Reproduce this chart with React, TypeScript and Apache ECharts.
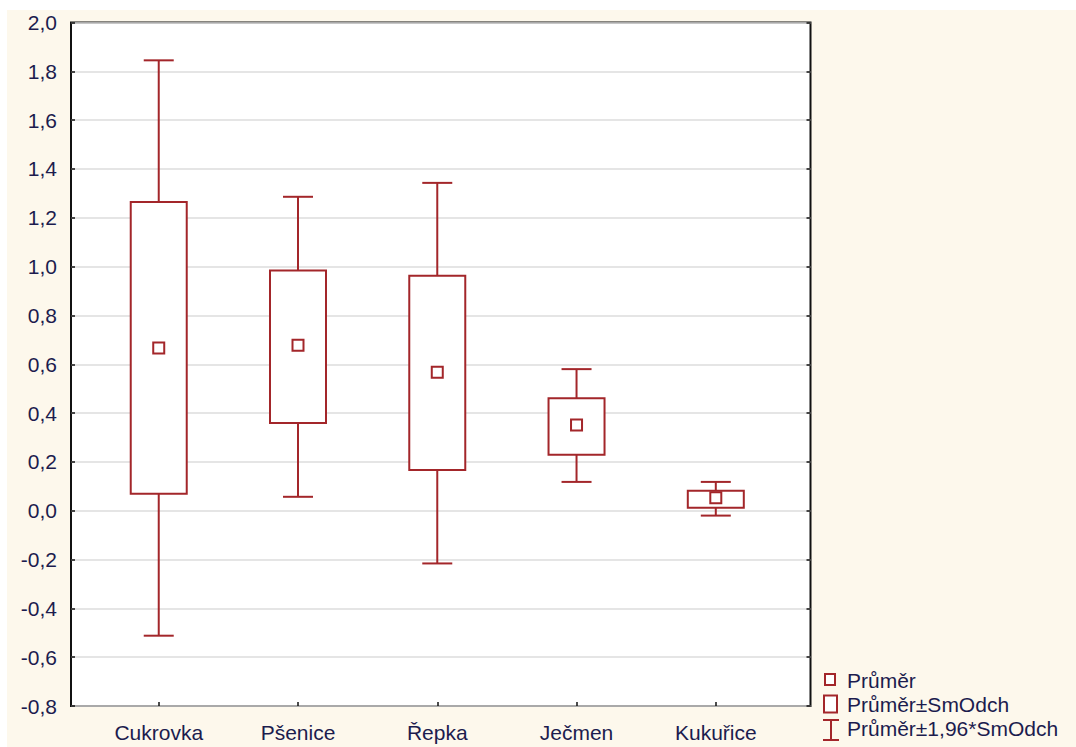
import React, { useEffect, useRef } from "react";
import * as echarts from "echarts";

// Categories and statistics per crop
const crops = ["Cukrovka", "Pšenice", "Řepka", "Ječmen", "Kukuřice"];
const means = [0.667, 0.678, 0.567, 0.351, 0.053];
const sdLow = [0.069, 0.359, 0.167, 0.229, 0.012];
const sdHigh = [1.265, 0.984, 0.963, 0.461, 0.082];
const ciLow = [-0.512, 0.057, -0.216, 0.118, -0.02];
const ciHigh = [1.845, 1.286, 1.343, 0.58, 0.118];
const legendLabels = ["Průměr", "Průměr±SmOdch", "Průměr±1,96*SmOdch"];

const RED = "#a3262a";
const INK = "#1c1c4e";
const CREAM = "#fdf8ec";
const FONT = "'Liberation Sans', Arial, sans-serif";

export default function App() {
  const ref = useRef<HTMLDivElement>(null);

  useEffect(() => {
    if (!ref.current) return;
    const chart = echarts.init(ref.current, null, { renderer: "svg" });

    const data = crops.map((_, i) => [i + 1, ciLow[i], sdLow[i], means[i], sdHigh[i], ciHigh[i]]);
    const positions = crops.map((_, i) => i + 1);

    const stroke = { stroke: RED, lineWidth: 2 };

    const legendY = [680, 704, 728];

    chart.setOption({
      animation: false,
      backgroundColor: "#ffffff",
      textStyle: { fontFamily: FONT },
      graphic: [
        {
          type: "rect",
          z: -10,
          silent: true,
          shape: { x: 7, y: 10, width: 1076, height: 747 },
          style: { fill: CREAM },
        },
        // legend
        {
          type: "rect",
          shape: { x: 825, y: 674, width: 10, height: 11 },
          style: { fill: "#fff", stroke: RED, lineWidth: 2 },
        },
        {
          type: "rect",
          shape: { x: 824, y: 695.5, width: 13, height: 17 },
          style: { fill: "#fff", stroke: RED, lineWidth: 2 },
        },
        {
          type: "line",
          shape: { x1: 823, y1: 720, x2: 839, y2: 720 },
          style: { stroke: RED, lineWidth: 2 },
        },
        {
          type: "line",
          shape: { x1: 831, y1: 720, x2: 831, y2: 740 },
          style: { stroke: RED, lineWidth: 2 },
        },
        {
          type: "line",
          shape: { x1: 823, y1: 740, x2: 839, y2: 740 },
          style: { stroke: RED, lineWidth: 2 },
        },
        ...legendLabels.map((t, i) => ({
          type: "text",
          x: 847,
          y: legendY[i],
          style: {
            text: t,
            fill: INK,
            font: `21px ${FONT}`,
            textVerticalAlign: "middle",
            verticalAlign: "middle",
          },
        })),
      ],
      grid: {
        left: 71,
        right: 265.5,
        top: 22.5,
        bottom: 41,
        show: true,
        backgroundColor: "#ffffff",
        borderColor: "#111",
        borderWidth: 2,
      },
      xAxis: {
        type: "value",
        min: 0.37,
        max: 5.68,
        axisLine: { show: false, onZero: false },
        splitLine: { show: false },
        axisTick: {
          show: true,
          inside: true,
          length: 4,
          lineStyle: { color: "#111", width: 1.5 },
          customValues: positions,
        },
        axisLabel: {
          customValues: positions,
          formatter: (v: number) => crops[Math.round(v) - 1] ?? "",
          color: INK,
          fontSize: 21,
          fontFamily: FONT,
          margin: 16,
        },
      },
      yAxis: [
        {
          type: "value",
          min: -0.8,
          max: 2.0,
          interval: 0.2,
          axisLine: { show: false, onZero: false },
          axisTick: {
            show: true,
            inside: true,
            length: 4,
            lineStyle: { color: "#111", width: 1.5 },
          },
          splitLine: { show: true, lineStyle: { color: "#dcdcdc", width: 1.5 } },
          axisLabel: {
            formatter: (v: number) => v.toFixed(1).replace(".", ","),
            color: INK,
            fontSize: 21,
            fontFamily: FONT,
            margin: 14,
          },
        },
        {
          type: "value",
          position: "right",
          min: -0.8,
          max: 2.0,
          interval: 0.2,
          axisLine: { show: false, onZero: false },
          axisTick: {
            show: true,
            inside: true,
            length: 4,
            lineStyle: { color: "#111", width: 1.5 },
          },
          splitLine: { show: false },
          axisLabel: { show: false },
        },
      ],
      series: [
        {
          type: "custom",
          name: "Průměr",
          xAxisIndex: 0,
          yAxisIndex: 0,
          dimensions: ["pos", "ciLow", "sdLow", "mean", "sdHigh", "ciHigh"],
          encode: { x: 0, y: [1, 2, 3, 4, 5] },
          data,
          renderItem: (_params: any, api: any) => {
            const x = api.value(0);
            const wLo = api.coord([x, api.value(1)]);
            const bLo = api.coord([x, api.value(2)]);
            const m = api.coord([x, api.value(3)]);
            const bHi = api.coord([x, api.value(4)]);
            const wHi = api.coord([x, api.value(5)]);
            const cx = m[0];
            const boxW = 56;
            const capW = 30;
            const ms = 11;
            return {
              type: "group",
              children: [
                { type: "line", shape: { x1: cx, y1: wHi[1], x2: cx, y2: bHi[1] }, style: stroke },
                { type: "line", shape: { x1: cx, y1: bLo[1], x2: cx, y2: wLo[1] }, style: stroke },
                { type: "line", shape: { x1: cx - capW / 2, y1: wHi[1], x2: cx + capW / 2, y2: wHi[1] }, style: stroke },
                { type: "line", shape: { x1: cx - capW / 2, y1: wLo[1], x2: cx + capW / 2, y2: wLo[1] }, style: stroke },
                {
                  type: "rect",
                  shape: { x: cx - boxW / 2, y: bHi[1], width: boxW, height: bLo[1] - bHi[1] },
                  style: { ...stroke, fill: "#ffffff" },
                },
                {
                  type: "rect",
                  shape: { x: cx - ms / 2, y: m[1] - ms / 2, width: ms, height: ms },
                  style: { ...stroke, fill: "#ffffff" },
                },
              ],
            };
          },
        },
      ],
    });

    return () => chart.dispose();
  }, []);

  return (
    <div
      ref={ref}
      style={{ position: "fixed", left: 0, top: 0, width: 1076, height: 747 }}
    />
  );
}
